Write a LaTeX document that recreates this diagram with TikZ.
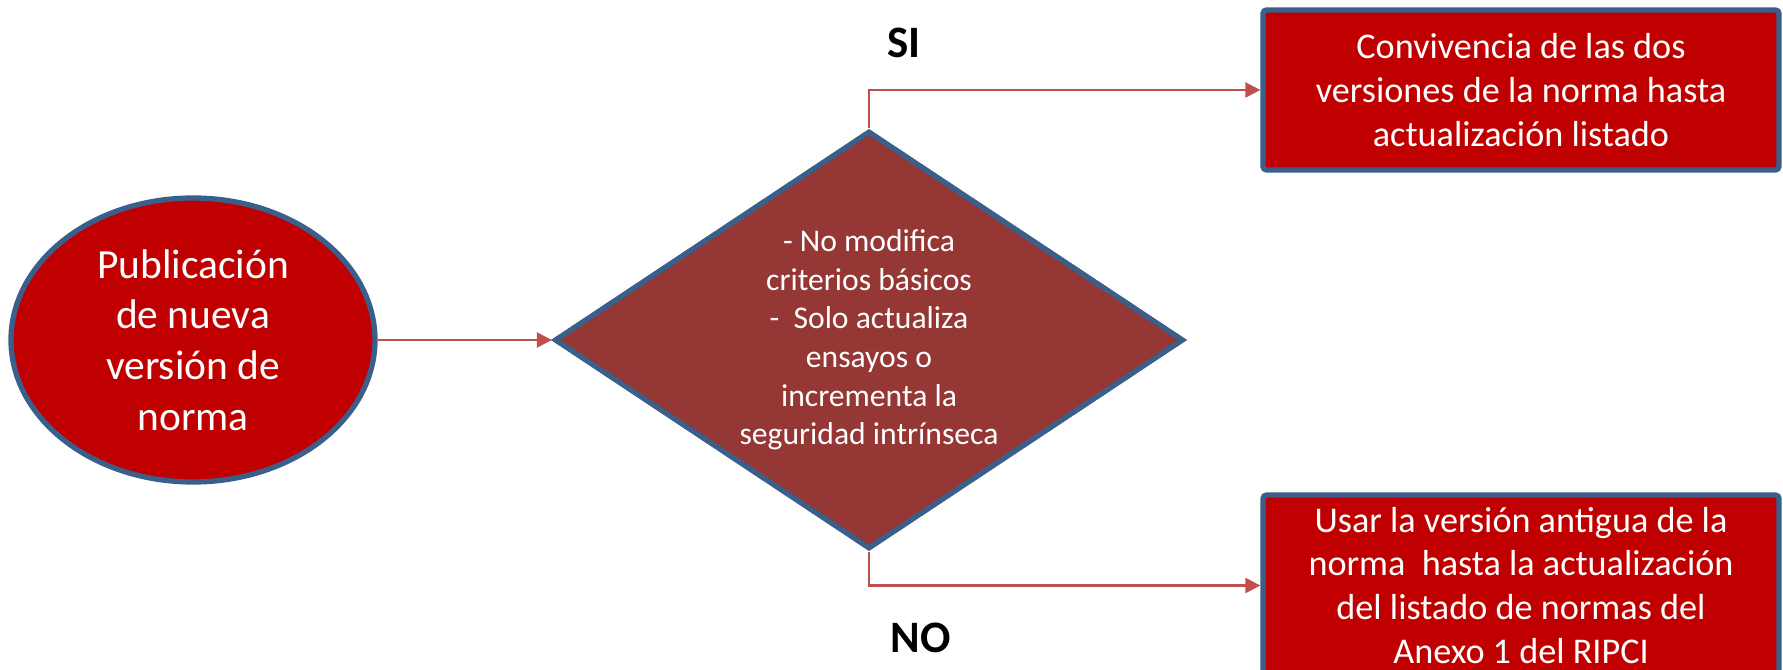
\documentclass[tikz,border=0pt]{standalone}
\usepackage{fontspec}
\setmainfont{Carlito}
\usetikzlibrary{shapes.geometric,arrows.meta}
\definecolor{rojo}{HTML}{C00000}
\definecolor{granate}{HTML}{953735}
\definecolor{borde}{HTML}{3A5F8B}
\definecolor{flechacol}{HTML}{C0504D}

\begin{document}
\begin{tikzpicture}
\tikzset{elipse/.style={draw=borde, line width=1.5pt, fill=rojo, ellipse, minimum width=3.64cm, minimum height=2.84cm, inner sep=0pt, align=center, text=white, font=\fontsize{11.8}{14.4}\selectfont}}
\tikzset{rombo/.style={draw=borde, line width=1.5pt, fill=granate, diamond, minimum width=6.29cm, minimum height=4.18cm, inner sep=0pt}}
\tikzset{texto/.style={align=center, text=white, font=\fontsize{9}{11}\selectfont}}
\tikzset{caja/.style={draw=borde, line width=1.5pt, fill=rojo, rounded corners=1pt, minimum width=5.16cm, minimum height=1.60cm, align=center, text=white, font=\fontsize{10.3}{12.5}\selectfont}}
\tikzset{flecha/.style={draw=flechacol, line width=0.7pt, -{Triangle[length=0.15cm, width=0.15cm]}}}
\tikzset{etiq/.style={font=\fontsize{12.8}{15}\selectfont\bfseries}}
\useasboundingbox (0, 0) rectangle (17.83, -6.70);
\clip (0, 0) rectangle (17.83, -6.70);
\node[elipse] (E) at (1.93, -3.40) {Publicación\\de nueva\\versión de\\norma};
\node[rombo, label={[texto]center:- No modifica\\criterios básicos\\-~ Solo actualiza\\ensayos o\\incrementa la\\seguridad intrínseca}] (R) at (8.69, -3.40) {};
\node[caja] (C1) at (15.21, -0.90) {Convivencia de las dos\\versiones de la norma hasta\\actualización listado};
\node[caja, minimum height=1.81cm] (C2) at (15.21, -5.855) {Usar la versión antigua de la\\norma~ hasta la actualización\\del listado de normas del\\Anexo 1 del RIPCI};
\draw[flecha] (E) -- (R);
\draw[flecha] (R.north) |- (C1.west);
\draw[flecha] (R.south) |- (C2.west);
\node[etiq] (SI) at (9.04, -0.43) {SI};
\node[etiq] (NO) at (9.21, -6.38) {NO};
\end{tikzpicture}
\end{document}
